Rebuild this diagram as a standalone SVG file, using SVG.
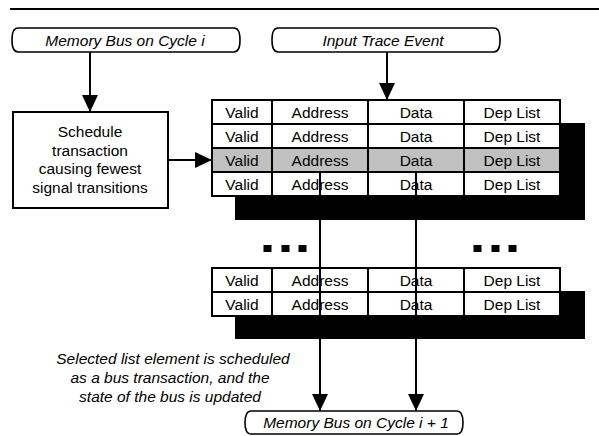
<svg xmlns="http://www.w3.org/2000/svg" width="599" height="436" viewBox="0 0 599 436">
  <style>
    .t { font-family: "Liberation Sans", Arial, sans-serif; font-size: 15.5px; fill: #000; text-anchor: middle; }
    .i { font-style: italic; }
    .term { fill: #fff; stroke: #000; stroke-width: 1.6; }
    .box { fill: #fff; stroke: #000; stroke-width: 2; }
    .cell { fill: #fff; stroke: #000; stroke-width: 2; }
    .sel { fill: #c0c0c0; }
    .shadow { fill: #000; }
    .wire { fill: none; stroke: #000; stroke-width: 2; }
    .dot { fill: #000; }
  </style>
  <defs>
    <marker id="arrow" markerUnits="userSpaceOnUse" markerWidth="18" markerHeight="16" refX="17" refY="8" orient="auto">
      <path d="M0,0 L17,8 L0,16 Z" fill="#000"/>
    </marker>
  </defs>

  <rect width="599" height="436" fill="#fff"/>

  <!-- header rule -->
  <line x1="10" y1="9" x2="599" y2="9" stroke="#000" stroke-width="2"/>

  <g id="bus-cycle-i">
    <path class="term" d="M18,28 H234 C239,28 240,34 240,40 C240,46 239,52 234,52 H18 C13,52 12,46 12,40 C12,34 13,28 18,28 Z"/>
    <text class="t i" x="125" y="45.5">Memory Bus on Cycle i</text>
  </g>

  <g id="input-trace-event">
    <path class="term" d="M278,28 H494 C499,28 500,34 500,40 C500,46 499,52 494,52 H278 C273,52 272,46 272,40 C272,34 273,28 278,28 Z"/>
    <text class="t i" x="383" y="45.5">Input Trace Event</text>
  </g>

  <g id="scheduler">
    <rect class="box" x="13" y="112" width="155" height="96"/>
    <text class="t" x="90" y="137">Schedule</text>
    <text class="t" x="90" y="155.5">transaction</text>
    <text class="t" x="90" y="174">causing fewest</text>
    <text class="t" x="90" y="192.5">signal transitions</text>
  </g>

  <g id="list-upper">
    <rect class="shadow" x="235" y="123" width="350" height="97"/>
    <g>
      <rect class="cell" x="212" y="100" width="60" height="24"/>
      <rect class="cell" x="272" y="100" width="96" height="24"/>
      <rect class="cell" x="368" y="100" width="96" height="24"/>
      <rect class="cell" x="464" y="100" width="96" height="24"/>
      <text class="t" x="242" y="117.5">Valid</text>
      <text class="t" x="320" y="117.5">Address</text>
      <text class="t" x="416" y="117.5">Data</text>
      <text class="t" x="512" y="117.5">Dep List</text>
    </g>
    <g>
      <rect class="cell" x="212" y="124" width="60" height="24"/>
      <rect class="cell" x="272" y="124" width="96" height="24"/>
      <rect class="cell" x="368" y="124" width="96" height="24"/>
      <rect class="cell" x="464" y="124" width="96" height="24"/>
      <text class="t" x="242" y="141.5">Valid</text>
      <text class="t" x="320" y="141.5">Address</text>
      <text class="t" x="416" y="141.5">Data</text>
      <text class="t" x="512" y="141.5">Dep List</text>
    </g>
    <g id="selected-entry">
      <rect class="cell sel" x="212" y="148" width="60" height="24"/>
      <rect class="cell sel" x="272" y="148" width="96" height="24"/>
      <rect class="cell sel" x="368" y="148" width="96" height="24"/>
      <rect class="cell sel" x="464" y="148" width="96" height="24"/>
      <text class="t" x="242" y="165.5">Valid</text>
      <text class="t" x="320" y="165.5">Address</text>
      <text class="t" x="416" y="165.5">Data</text>
      <text class="t" x="512" y="165.5">Dep List</text>
    </g>
    <g>
      <rect class="cell" x="212" y="172" width="60" height="24"/>
      <rect class="cell" x="272" y="172" width="96" height="24"/>
      <rect class="cell" x="368" y="172" width="96" height="24"/>
      <rect class="cell" x="464" y="172" width="96" height="24"/>
      <text class="t" x="242" y="189.5">Valid</text>
      <text class="t" x="320" y="189.5">Address</text>
      <text class="t" x="416" y="189.5">Data</text>
      <text class="t" x="512" y="189.5">Dep List</text>
    </g>
  </g>

  <!-- ellipsis between the two list segments -->
  <g id="ellipsis">
    <rect class="dot" x="263.5" y="245" width="8" height="7"/>
    <rect class="dot" x="281.5" y="245" width="8" height="7"/>
    <rect class="dot" x="298.5" y="245" width="8" height="7"/>
    <rect class="dot" x="473.5" y="245" width="8" height="7"/>
    <rect class="dot" x="491.5" y="245" width="8" height="7"/>
    <rect class="dot" x="508.5" y="245" width="8" height="7"/>
  </g>

  <g id="list-lower">
    <rect class="shadow" x="235" y="291" width="350" height="48"/>
    <g>
      <rect class="cell" x="212" y="268" width="60" height="24"/>
      <rect class="cell" x="272" y="268" width="96" height="24"/>
      <rect class="cell" x="368" y="268" width="96" height="24"/>
      <rect class="cell" x="464" y="268" width="96" height="24"/>
      <text class="t" x="242" y="285.5">Valid</text>
      <text class="t" x="320" y="285.5">Address</text>
      <text class="t" x="416" y="285.5">Data</text>
      <text class="t" x="512" y="285.5">Dep List</text>
    </g>
    <g>
      <rect class="cell" x="212" y="292" width="60" height="24"/>
      <rect class="cell" x="272" y="292" width="96" height="24"/>
      <rect class="cell" x="368" y="292" width="96" height="24"/>
      <rect class="cell" x="464" y="292" width="96" height="24"/>
      <text class="t" x="242" y="309.5">Valid</text>
      <text class="t" x="320" y="309.5">Address</text>
      <text class="t" x="416" y="309.5">Data</text>
      <text class="t" x="512" y="309.5">Dep List</text>
    </g>
  </g>

  <g id="bus-cycle-next">
    <path class="term" d="M251,411 H457 C462,411 463,417 463,422.5 C463,428 462,434 457,434 H251 C246,434 245,428 245,422.5 C245,417 246,411 251,411 Z"/>
    <text class="t i" x="356" y="428">Memory Bus on Cycle i + 1</text>
  </g>

  <g id="note">
    <text class="t i" x="173" y="364">Selected list element is scheduled</text>
    <text class="t i" x="170" y="383">as a bus transaction, and the</text>
    <text class="t i" x="170" y="402">state of the bus is updated</text>
  </g>

  <g id="connectors">
    <line class="wire" x1="90" y1="52" x2="90" y2="112" marker-end="url(#arrow)"/>
    <line class="wire" x1="387" y1="52" x2="387" y2="100" marker-end="url(#arrow)"/>
    <line class="wire" x1="168" y1="160" x2="212" y2="160" marker-end="url(#arrow)"/>
    <line class="wire" x1="320" y1="172" x2="320" y2="411" marker-end="url(#arrow)"/>
    <line class="wire" x1="416" y1="172" x2="416" y2="411" marker-end="url(#arrow)"/>
  </g>
</svg>
